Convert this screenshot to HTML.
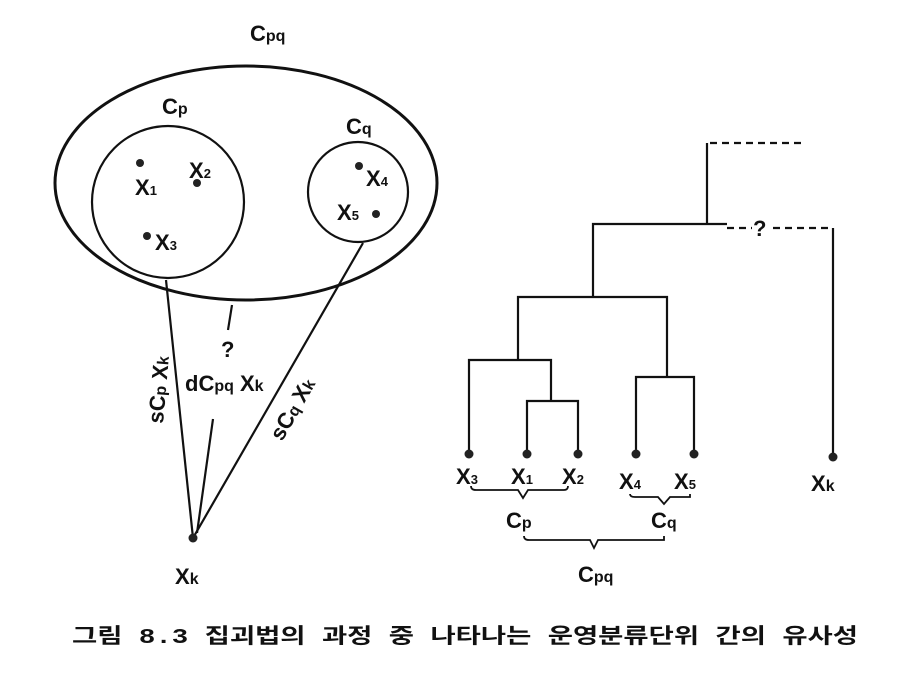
<!DOCTYPE html>
<html><head><meta charset="utf-8"><style>
html,body{margin:0;padding:0;background:#fff;}
svg{display:block;}
text{font-family:"Liberation Sans",sans-serif;font-weight:bold;fill:#111;}
</style></head><body>
<svg width="913" height="677" viewBox="0 0 913 677" xmlns="http://www.w3.org/2000/svg">
<g stroke="#111" fill="none" stroke-width="2.2">
<ellipse cx="246" cy="183" rx="191" ry="117" stroke-width="3"/>
<circle cx="168" cy="202" r="76"/>
<circle cx="358" cy="192" r="50"/>
<line x1="166" y1="280" x2="193" y2="538"/>
<line x1="363" y1="243" x2="193" y2="538"/>
<line x1="213" y1="419" x2="197" y2="533"/>
<line x1="232" y1="305" x2="228" y2="330"/>
<polyline points="801,143 707,143" stroke-dasharray="7,5"/>
<polyline points="707,143 707,224"/>
<polyline points="593,297 593,224 727,224"/>
<line x1="727" y1="228" x2="752" y2="228" stroke-dasharray="7,5"/>
<line x1="773" y1="228" x2="833" y2="228" stroke-dasharray="7,5"/>
<line x1="833" y1="228" x2="833" y2="455"/>
<polyline points="518,360 518,297 667,297 667,377"/>
<polyline points="469,453 469,360 551,360 551,401"/>
<polyline points="527,453 527,401 578,401 578,453"/>
<polyline points="636,453 636,377 694,377 694,453"/>
<path d="M471,486 Q471,490 476,490 L518,490 L523,498 L528,490 L564,490 Q568,490 568,486" stroke-width="1.8"/>
<path d="M630,494 Q630,497 635,497 L658,497 L664,504 L670,497 L690,497 L690,494" stroke-width="1.8"/>
<path d="M524,536 Q524,540 529,540 L590,540 L594,548 L598,540 L664,540 L664,536" stroke-width="1.8"/>
</g>
<g fill="#222">
<circle cx="140" cy="163" r="4"/><circle cx="197" cy="183" r="4"/><circle cx="147" cy="236" r="4"/>
<circle cx="359" cy="166" r="4"/><circle cx="376" cy="214" r="4"/><circle cx="193" cy="538" r="4.5"/>
<circle cx="469" cy="454" r="4.5"/><circle cx="527" cy="454" r="4.5"/><circle cx="578" cy="454" r="4.5"/>
<circle cx="636" cy="454" r="4.5"/><circle cx="694" cy="454" r="4.5"/><circle cx="833" cy="457" r="4.5"/>
</g>
<g font-size="22">
<text x="250" y="41">C<tspan font-size="16">pq</tspan></text>
<text x="162" y="114">C<tspan font-size="16">p</tspan></text>
<text x="346" y="134">C<tspan font-size="16">q</tspan></text>
<text x="135" y="195">X<tspan font-size="13">1</tspan></text>
<text x="189" y="178">X<tspan font-size="13">2</tspan></text>
<text x="155" y="250">X<tspan font-size="13">3</tspan></text>
<text x="366" y="186">X<tspan font-size="13">4</tspan></text>
<text x="337" y="220">X<tspan font-size="13">5</tspan></text>
<text x="175" y="584">X<tspan font-size="16">k</tspan></text>
<text x="221" y="357">?</text>
<text x="185" y="391">dC<tspan font-size="16">pq</tspan> X<tspan font-size="16">k</tspan></text>
<text transform="translate(163,424) rotate(-85)">sC<tspan font-size="16">p</tspan> X<tspan font-size="16">k</tspan></text>
<text transform="translate(282,442) rotate(-60)">sC<tspan font-size="16">q</tspan> X<tspan font-size="16">k</tspan></text>
<text x="753" y="236">?</text>
<text x="456" y="484">X<tspan font-size="13">3</tspan></text>
<text x="511" y="484">X<tspan font-size="13">1</tspan></text>
<text x="562" y="484">X<tspan font-size="13">2</tspan></text>
<text x="619" y="489">X<tspan font-size="13">4</tspan></text>
<text x="674" y="489">X<tspan font-size="13">5</tspan></text>
<text x="811" y="491">X<tspan font-size="16">k</tspan></text>
<text x="506" y="528">C<tspan font-size="16">p</tspan></text>
<text x="651" y="528">C<tspan font-size="16">q</tspan></text>
<text x="578" y="582">C<tspan font-size="16">pq</tspan></text>
</g>
<text x="72" y="643" font-size="21" textLength="786" lengthAdjust="spacingAndGlyphs" style="font-family:'Liberation Mono','Noto Sans CJK KR','NanumGothic',monospace;">그림 8.3 집괴법의 과정 중 나타나는 운영분류단위 간의 유사성</text>
</svg>
</body></html>
